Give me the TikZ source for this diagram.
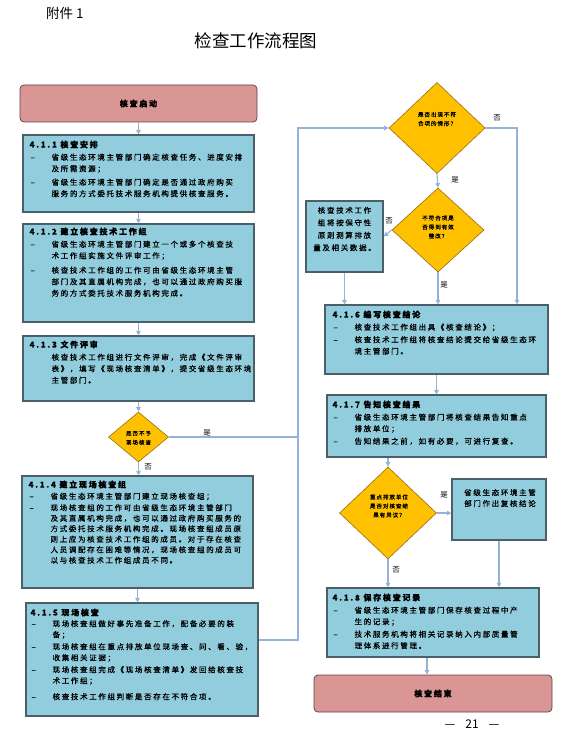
\documentclass[tikz,border=0pt]{standalone}
\usepackage{fontspec}
\setmainfont{Noto Sans CJK SC}
\newfontfamily\bodyfont{Noto Sans CJK SC}[LetterSpace=22, FakeBold=0.8]
\newfontfamily\dmfont{Noto Sans CJK SC}[LetterSpace=18, FakeBold=0.6]
\usetikzlibrary{shapes.geometric,arrows.meta}

\definecolor{boxblue}{RGB}{146,205,221}
\definecolor{boxedge}{RGB}{75,95,105}
\definecolor{pinkfill}{RGB}{217,150,148}
\definecolor{pinkedge}{RGB}{95,70,70}
\definecolor{amber}{RGB}{255,192,0}
\definecolor{amberedge}{RGB}{150,110,20}
\definecolor{connblue}{RGB}{149,179,215}

\newcommand\mydash{\makebox[22pt][l]{\hspace{1pt}–}}
\newcommand\mycont{\hspace*{22pt}}

\tikzset{
  bluebox/.style={draw=boxedge, fill=boxblue, line width=1.2pt, inner sep=0pt},
  pinkbox/.style={draw=pinkedge, fill=pinkfill, line width=0.8pt, rounded corners=4pt, inner sep=0pt,
    font=\bodyfont\bfseries\fontsize{8}{10}\selectfont},
  decision/.style={diamond, draw=amberedge, fill=amber, line width=0.6pt, inner sep=0pt, aspect=1},
  conn/.style={draw=connblue, line width=1.1pt},
  arr/.style={conn, -{Triangle[length=4.5pt,width=4.5pt]}},
  yn/.style={font=\fontsize{7.5}{8}\selectfont, inner sep=0pt},
  boxtext/.style={anchor=north west, inner sep=0pt, align=left,
    font=\bodyfont\fontsize{7.5}{11.5}\selectfont},
  dtext/.style={inner sep=0pt, align=center, font=\dmfont\fontsize{5.5}{9}\selectfont},
  ctext/.style={inner sep=0pt, align=center, font=\bodyfont\fontsize{7.5}{12}\selectfont},
}

\begin{document}
\begin{tikzpicture}[x=1pt,y=-1pt]
\useasboundingbox (0,0) rectangle (565,751);
\fill[white] (0,0) rectangle (565,751);

% headings
\node[font=\fontsize{13.5}{15}\selectfont, anchor=west, inner sep=0pt] (att) at (46,13) {附件 1};
\node[font=\fontsize{17.5}{20}\selectfont, inner sep=0pt] (title) at (256,41) {检查工作流程图};
\node[font=\fontsize{12}{14}\selectfont, inner sep=0pt] (pg) at (472,724) {—\hspace{10pt}21\hspace{10pt}—};

% left column
\node[pinkbox, minimum width=237pt, minimum height=37pt] (start) at (138.5,103.5) {核查启动};
\node[bluebox, minimum width=231pt, minimum height=77pt] (b1) at (138.5,173.5) {};
\node[bluebox, minimum width=231pt, minimum height=98pt] (b2) at (138.5,273) {};
\node[bluebox, minimum width=231pt, minimum height=65pt] (b3) at (138.5,368.5) {};
\node[decision, minimum width=60pt, minimum height=50pt] (d1) at (138.5,437) {};
\node[bluebox, minimum width=231pt, minimum height=112pt] (b4) at (137.5,532) {};
\node[bluebox, minimum width=232pt, minimum height=113pt] (b5) at (142,659.5) {};

% right column
\node[decision, minimum width=96pt, minimum height=91pt] (d2) at (437,128) {};
\node[decision, minimum width=92pt, minimum height=84pt] (d3) at (438,230) {};
\node[bluebox, minimum width=77pt, minimum height=71pt] (lb) at (344.5,236.5) {};
\node[bluebox, minimum width=223pt, minimum height=69pt] (b6) at (436.5,339.5) {};
\node[bluebox, minimum width=219pt, minimum height=62pt] (b7) at (436.5,426) {};
\node[decision, minimum width=97pt, minimum height=92pt] (d4) at (388,513) {};
\node[bluebox, minimum width=94pt, minimum height=61pt] (rb) at (499,509.5) {};
\node[bluebox, minimum width=212pt, minimum height=69pt] (b8) at (433,622.5) {};
\node[pinkbox, minimum width=238pt, minimum height=37pt] (end) at (433,693.5) {核查结束};

% box texts
\node[boxtext] (t1) at ([xshift=7pt,yshift=-6pt]b1.north west) {%
{\bfseries\fontsize{8}{11.5}\selectfont 4.1.1 核查安排}\\[1pt]
\mydash 省级生态环境主管部门确定核查任务、进度安排\\
\mycont 及所需资源；\\[2pt]
\mydash 省级生态环境主管部门确定是否通过政府购买\\
\mycont 服务的方式委托技术服务机构提供核查服务。};

\node[boxtext] (t2) at ([xshift=7pt,yshift=-4pt]b2.north west) {%
{\bfseries\fontsize{8}{11.5}\selectfont 4.1.2 建立核查技术工作组}\\[1pt]
\mydash 省级生态环境主管部门建立一个或多个核查技\\
\mycont 术工作组实施文件评审工作；\\[3pt]
\mydash 核查技术工作组的工作可由省级生态环境主管\\
\mycont 部门及其直属机构完成，也可以通过政府购买服\\
\mycont 务的方式委托技术服务机构完成。};

\node[boxtext] (t3) at ([xshift=7pt,yshift=-5pt]b3.north west) {%
{\bfseries\fontsize{8}{11.5}\selectfont 4.1.3 文件评审}\\[1pt]
\mycont 核查技术工作组进行文件评审，完成《文件评审\\
\mycont 表》，填写《现场核查清单》，提交省级生态环境\\
\mycont 主管部门。};

\node[boxtext, font=\bodyfont\fontsize{7.5}{10.5}\selectfont] (t4) at ([xshift=7pt,yshift=-5pt]b4.north west) {%
{\bfseries\fontsize{8}{11.5}\selectfont 4.1.4 建立现场核查组}\\[1pt]
\mydash 省级生态环境主管部门建立现场核查组；\\[1pt]
\mydash 现场核查组的工作可由省级生态环境主管部门\\
\mycont 及其直属机构完成，也可以通过政府购买服务的\\
\mycont 方式委托技术服务机构完成。现场核查组成员原\\
\mycont 则上应为核查技术工作组的成员。对于存在核查\\
\mycont 人员调配存在困难等情况，现场核查组的成员可\\
\mycont 以与核查技术工作组成员不同。};

\node[boxtext, font=\bodyfont\fontsize{7.5}{11}\selectfont] (t5) at ([xshift=5pt,yshift=-6pt]b5.north west) {%
{\bfseries\fontsize{8}{11.5}\selectfont 4.1.5 现场核查}\\
\mydash 现场核查组做好事先准备工作，配备必要的装\\
\mycont 备；\\[1pt]
\mydash 现场核查组在重点排放单位现场查、问、看、验，\\
\mycont 收集相关证据；\\[1pt]
\mydash 现场核查组完成《现场核查清单》发回给核查技\\
\mycont 术工作组；\\[5pt]
\mydash 核查技术工作组判断是否存在不符合项。};

\node[boxtext] (t6) at ([xshift=8pt,yshift=-6pt]b6.north west) {%
{\bfseries\fontsize{8}{11.5}\selectfont 4.1.6 编写核查结论}\\[1pt]
\mydash 核查技术工作组出具《核查结论》；\\[1pt]
\mydash 核查技术工作组将核查结论提交给省级生态环\\
\mycont 境主管部门。};

\node[boxtext] (t7) at ([xshift=6pt,yshift=-6pt]b7.north west) {%
{\bfseries\fontsize{8}{11.5}\selectfont 4.1.7 告知核查结果}\\[1pt]
\mydash 省级生态环境主管部门将核查结果告知重点\\
\mycont 排放单位；\\[1pt]
\mydash 告知结果之前，如有必要，可进行复查。};

\node[boxtext] (t8) at ([xshift=6pt,yshift=-6pt]b8.north west) {%
{\bfseries\fontsize{8}{11.5}\selectfont 4.1.8 保存核查记录}\\[1pt]
\mydash 省级生态环境主管部门保存核查过程中产\\
\mycont 生的记录；\\[1pt]
\mydash 技术服务机构将相关记录纳入内部质量管\\
\mycont 理体系进行管理。};

\node[ctext, font=\bodyfont\fontsize{7.5}{12.5}\selectfont] (tlb) at (344.5,229) {核查技术工作\\组将按保守性\\原则测算排放\\量及相关数据。};
\node[ctext, font=\bodyfont\fontsize{7.5}{11}\selectfont] (trb) at (500,498) {省级生态环境主管\\部门作出复核结论};

% diamond texts
\node[dtext] (td1) at (138.5,438) {是否不予\\现场核查};
\node[dtext] (td2) at (437,119) {是否出现不符\\合项的情形？};
\node[dtext] (td3) at (438,227) {不符合项是\\否得到有效\\整改？};
\node[dtext] (td4) at (389,506) {重点排放单位\\是否对核查结\\果有异议？};

% helper coordinates
\coordinate (lc) at (298,128);
\coordinate (j5) at (298,640);
\coordinate (rc) at (517,128);

% connectors left column
\draw[arr] (start) -- (b1);
\draw[arr] (b1) -- (b2);
\draw[arr] (b2) -- (b3);
\draw[arr] (b3) -- (d1);
\draw[arr] (d1.south) -- (d1.south |- b4.north);
\draw[arr] (b4.south) -- (b4.south |- b5.north);
\draw[conn] (d1.east) -- (d1.east -| lc);
\draw[arr] (j5 -| b5.east) -- (j5) -- (lc) -- (d2.west);

% connectors right column
\draw[arr] (d2.east) -- (rc) -- (rc |- b6.north);
\draw[arr] (d2.south) -- (d3.north);
\draw[arr] (d3.west) -- (lb.east);
\draw[arr] (lb.south) -- (lb.south |- b6.north);
\draw[arr] (d3.south) -- (d3.south |- b6.north);
\draw[arr] (b6.south) -- (b6.south |- b7.north);
\draw[arr] (d4.north |- b7.south) -- (d4.north);
\draw[arr] (d4.east) -- (d4.east -| rb.west);
\draw[arr] (d4.south) -- (d4.south |- b8.north);
\draw[arr] (rb.south) -- (rb.south |- b8.north);
\draw[arr] ([xshift=-6pt]b8.south) -- ([xshift=-6pt]b8.south |- end.north);

% yes / no labels
\node[yn] (l1) at (207,433) {是};
\node[yn] (l2) at (148,467) {否};
\node[yn] (l3) at (497,118) {否};
\node[yn] (l4) at (455,180) {是};
\node[yn] (l5) at (389,221) {否};
\node[yn] (l6) at (444,285) {是};
\node[yn] (l7) at (444,495) {是};
\node[yn] (l8) at (396,570) {否};
\end{tikzpicture}
\end{document}
